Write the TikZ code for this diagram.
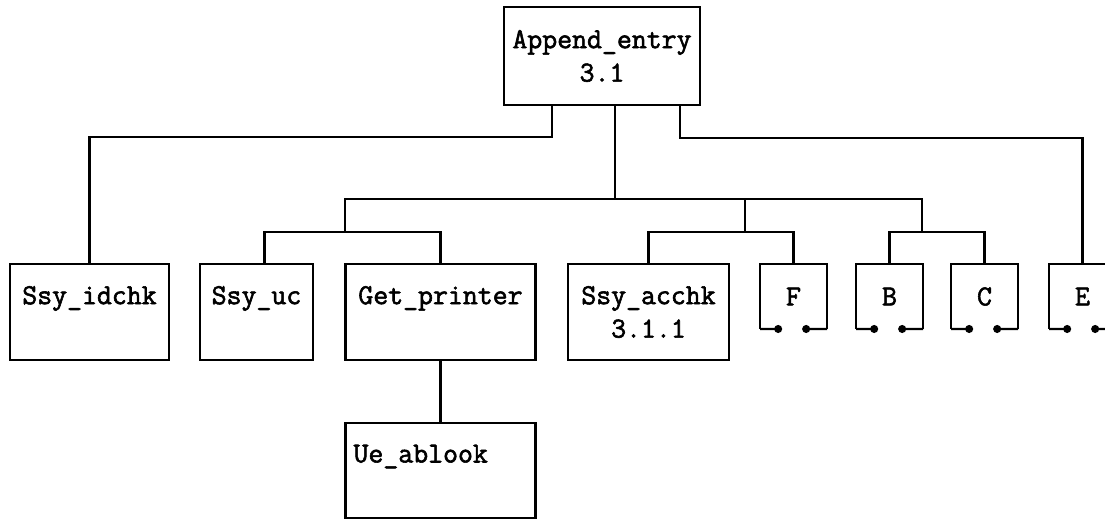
\documentclass[tikz,border=0pt]{standalone}
\usepackage{fontspec}
\newfontfamily\chartfont{Latin Modern Mono}[AutoFakeBold=2]
\usepackage{tikz}
\usetikzlibrary{calc}
\usetikzlibrary{arrows.meta}

\newcommand{\modfont}{\chartfont\bfseries\fontsize{16.5}{19}\selectfont}

\tikzset{
  module/.style={draw, line width=1.3pt, inner sep=2pt, outer sep=0pt,
    align=center, font=\modfont, minimum height=1.92cm},
  leaf/.style={inner sep=2pt, outer sep=0pt, font=\modfont,
    minimum width=1.34cm, minimum height=1.3cm},
  wire/.style={line width=1.3pt},
}

\begin{document}
\begin{tikzpicture}[x=.02cm, y=-.02cm]
  \useasboundingbox (0,0) rectangle (1105,520);
  \clip (0,0) rectangle (1105,520);

  % modules
  \node [module, minimum width=3.92cm, minimum height=1.96cm] (append) at (602,56) {Append\_entry\\3.1};
  \node [module, minimum width=3.18cm] (idchk) at (89.5,312) {Ssy\_idchk\\\phantom{3}};
  \node [module, minimum width=2.26cm] (uc) at (256.5,312) {Ssy\_uc\\\phantom{3}};
  \node [module, minimum width=3.8cm] (printer) at (440.5,312) {Get\_printer\\\phantom{3}};
  \node [module, minimum width=3.22cm] (acchk) at (648.5,312) {Ssy\_acchk\\3.1.1};
  \node [module, align=left, inner xsep=.16cm, text width=3.48cm, minimum height=1.9cm] (ablook) at (440.5,470.5) {Ue\_ablook\\\phantom{3}};

  \node [leaf] (F) at (793.5,296.5) {F};
  \node [leaf] (B) at (889.5,296.5) {B};
  \node [leaf] (C) at (984.5,296.5) {C};
  \node [leaf] (E) at (1082.5,296.5) {E};

  % open boxes
  \foreach \leaf in {F,B,C,E}{
    \draw [wire] (\leaf.south west) -- (\leaf.north west) -- (\leaf.north east) -- (\leaf.south east);
    \draw [wire, -{Circle[length=4.5pt]}] (\leaf.south west) -- ($(\leaf.south west)!.33!(\leaf.south east)$);
    \draw [wire, -{Circle[length=4.5pt]}] (\leaf.south east) -- ($(\leaf.south west)!.63!(\leaf.south east)$);
  }

  % calls
  \coordinate (hub) at (615,199);
  \coordinate (ja) at (345,232);
  \coordinate (jb) at (745,232);
  \coordinate (jc) at (922,232);
  \draw [wire] (append.south) ++(-50,0) -- ++(0,32) -| (idchk.north);
  \draw [wire] (append.south) ++(78,0) -- ++(0,33) -| (E.north);
  \draw [wire] (append.south) ++(13,0) -- (hub);
  \draw [wire] (ja) |- (hub) -| (jc);
  \draw [wire] (jb) -- (jb |- hub);
  \draw [wire] (uc.north) ++(8,0) |- (ja) -| (printer.north);
  \draw [wire] (acchk.north) |- (jb) -| (F.north);
  \draw [wire] (B.north) |- (jc) -| (C.north);
  \draw [wire] (printer.south) -- (ablook.north);
\end{tikzpicture}
\end{document}
